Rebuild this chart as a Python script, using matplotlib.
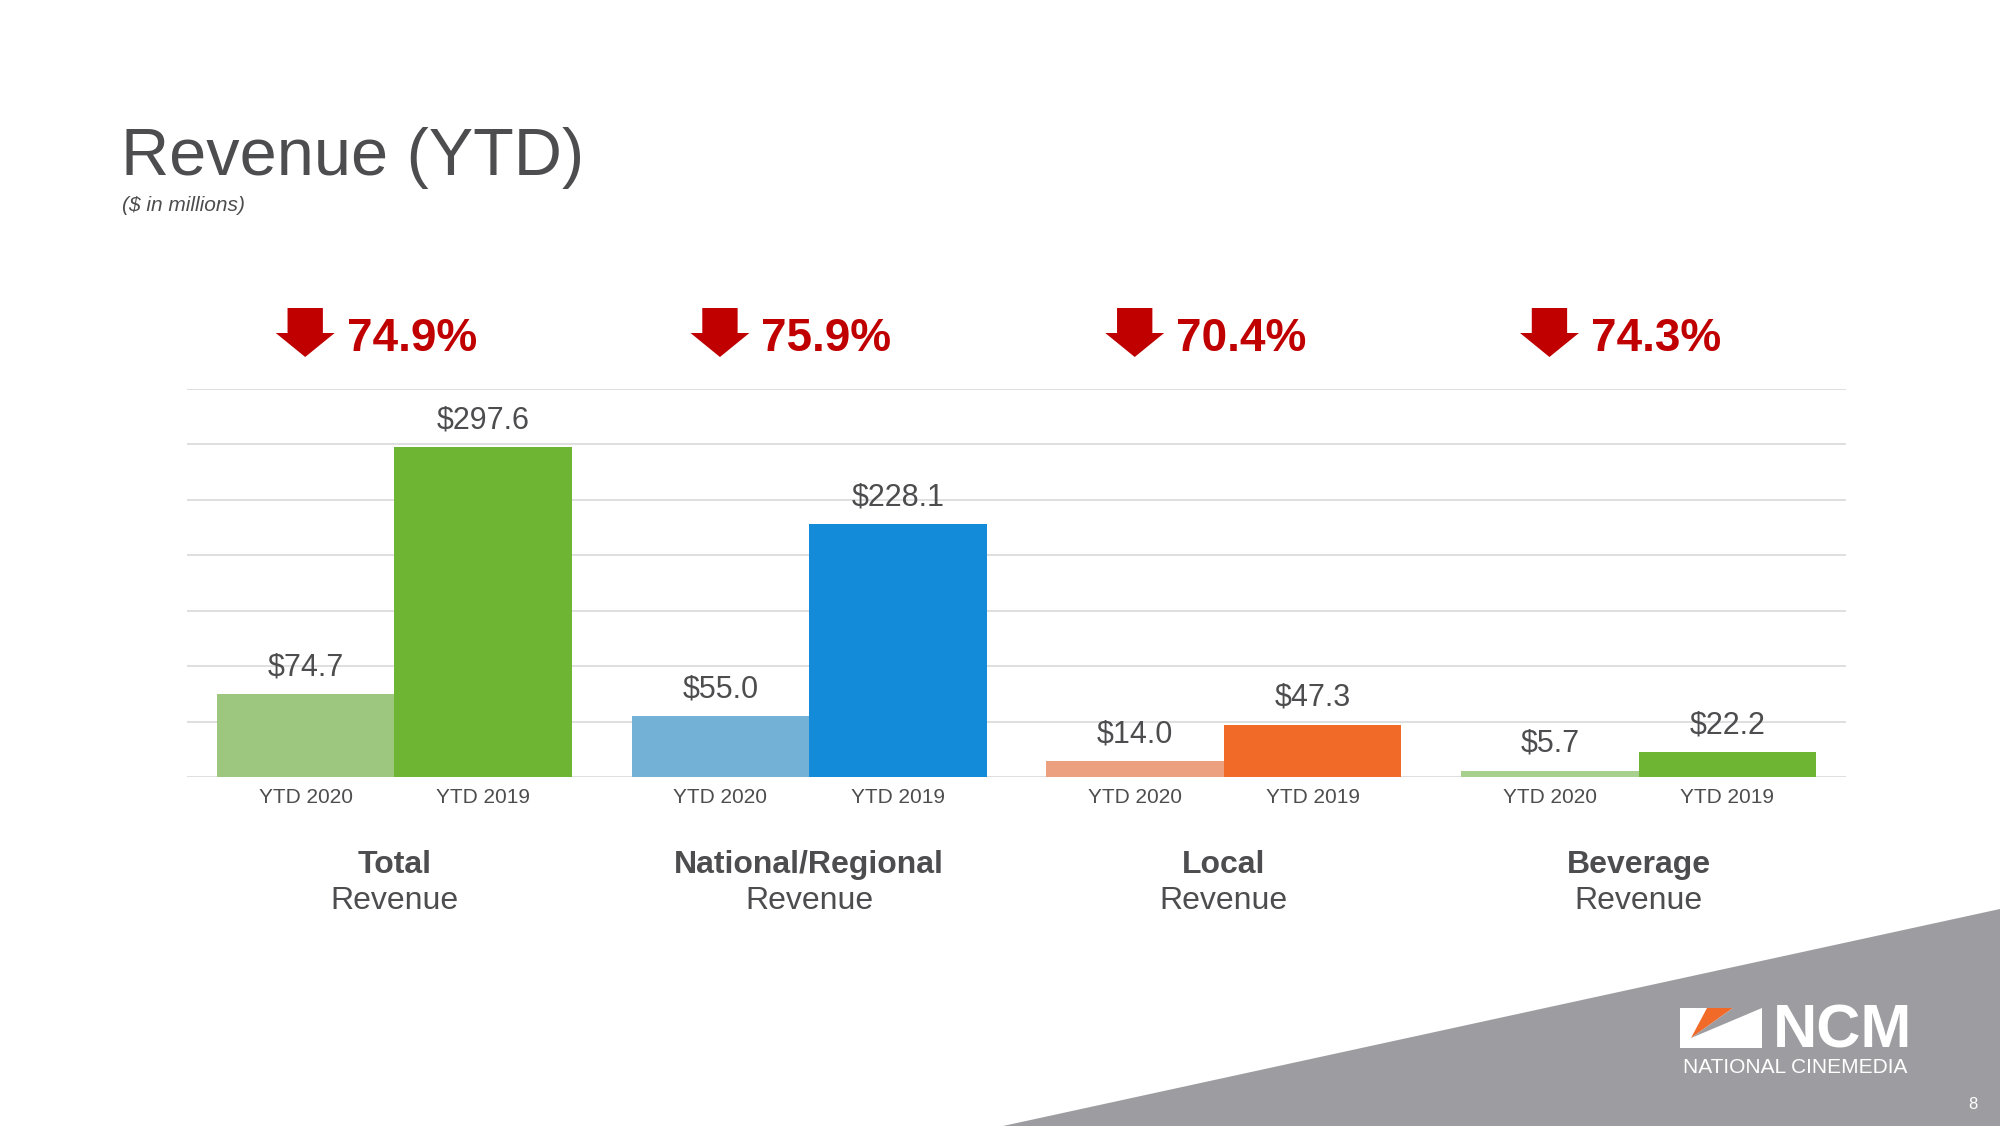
# Revenue (YTD) slide - grouped bars, 2020 vs 2019
import matplotlib.pyplot as plt
from matplotlib.patches import Polygon
from matplotlib import transforms

plt.rcParams['font.family'] = ['Liberation Sans', 'DejaVu Sans']

# Data ($ in millions)
groups_bold = ['Total', 'National/Regional', 'Local', 'Beverage']
groups_sub = ['Revenue', 'Revenue', 'Revenue', 'Revenue']
periods = ['YTD 2020', 'YTD 2019']
ytd_2020 = [74.7, 55.0, 14.0, 5.7]
ytd_2019 = [297.6, 228.1, 47.3, 22.2]
pct_decline = ['74.9%', '75.9%', '70.4%', '74.3%']

colors_2020 = ['#9dc67f', '#73b1d6', '#eca080', '#a8d08d']
colors_2019 = ['#6db532', '#138bd9', '#f26a28', '#6db532']

W, H = 2000, 1126
text_gray = '#4d4d4f'
red = '#c00000'


def fy(y):
    # pixel row (from top) -> figure fraction
    return 1 - y / H


fig = plt.figure(figsize=(W / 100, H / 100), dpi=100)

# gray corner in the bottom right
fig.patches.append(Polygon([(1003 / W, 0), (1, 0), (1, fy(909))], closed=True,
                           facecolor='#9d9ca0', edgecolor='none',
                           transform=fig.transFigure, zorder=0))

# title
fig.text(121 / W, fy(175), 'Revenue (YTD)', fontsize=48, color=text_gray, va='baseline')
fig.text(122 / W, fy(211), '($ in millions)', fontsize=15, style='italic',
         color=text_gray, va='baseline')

# chart area
ax = fig.add_axes([187 / W, fy(777), (1846 - 187) / W, (777 - 389) / H])
ax.set_facecolor('none')
ax.set_xlim(-0.5, 3.5)
ax.set_ylim(0, 350)
ax.set_yticks(range(0, 351, 50))
ax.yaxis.grid(True, color='#d9d9d9', linewidth=1.2)
ax.set_axisbelow(True)
ax.tick_params(axis='y', left=False, labelleft=False)
for s in ax.spines.values():
    s.set_visible(False)

bw = 0.428
x = list(range(len(groups_bold)))
x20 = [i - bw / 2 for i in x]
x19 = [i + bw / 2 for i in x]
b20 = ax.bar(x20, ytd_2020, width=bw, color=colors_2020, zorder=3)
b19 = ax.bar(x19, ytd_2019, width=bw, color=colors_2019, zorder=3)

# value labels
for bars, vals in [(b20, ytd_2020), (b19, ytd_2019)]:
    for bar, v in zip(bars, vals):
        ax.annotate(f'${v:.1f}', (bar.get_x() + bar.get_width() / 2, v),
                    xytext=(0, 13.5), textcoords='offset points',
                    ha='center', va='baseline', fontsize=22, color=text_gray)

# period labels under each bar
ax.set_xticks(x20 + x19)
ax.set_xticklabels([periods[0]] * 4 + [periods[1]] * 4, fontsize=15, color=text_gray)
ax.tick_params(axis='x', length=0, pad=8)

# group names, percent drop and arrows (x in data, y in figure)
blend = transforms.blended_transform_factory(ax.transData, fig.transFigure)
aw = 0.142
for i in x:
    ax.text(i, fy(873), groups_bold[i], transform=blend, ha='center', va='baseline',
            fontsize=23, fontweight='bold', color=text_gray)
    ax.text(i, fy(909), groups_sub[i], transform=blend, ha='center', va='baseline',
            fontsize=23, color=text_gray)
    ax.text(i - 0.115, fy(351), pct_decline[i], transform=blend, ha='left', va='baseline',
            fontsize=33, fontweight='bold', color=red)
    cx = i - 0.215
    arrow = [(cx - 0.3 * aw, fy(308)), (cx + 0.3 * aw, fy(308)), (cx + 0.3 * aw, fy(333)),
             (cx + 0.5 * aw, fy(333)), (cx, fy(357)), (cx - 0.5 * aw, fy(333)),
             (cx - 0.3 * aw, fy(333))]
    ax.add_patch(Polygon(arrow, closed=True, facecolor=red, edgecolor='none',
                         transform=blend, clip_on=False))

# NCM logo
logo_white = [(1680, 1008), (1762, 1008), (1762, 1048), (1680, 1048)]
logo_orange = [(1707, 1008), (1733, 1008), (1691, 1038)]
logo_gap = [(1733, 1008), (1762, 1008), (1691, 1038)]
for pts, c in [(logo_white, 'white'), (logo_orange, '#f26a28'), (logo_gap, '#9d9ca0')]:
    fig.patches.append(Polygon([(px / W, fy(py)) for px, py in pts], closed=True,
                               facecolor=c, edgecolor='none', transform=fig.transFigure))
fig.text(1912 / W, fy(1048), 'NCM', fontsize=44, fontweight='heavy', color='white',
         ha='right', va='baseline')
fig.text(1795 / W, fy(1073), 'NATIONAL CINEMEDIA', fontsize=15, color='white',
         ha='center', va='baseline')
fig.text(1973 / W, fy(1109), '8', fontsize=12, color='white', ha='center', va='baseline')

fig.savefig('out.png', dpi=100, facecolor='white')
